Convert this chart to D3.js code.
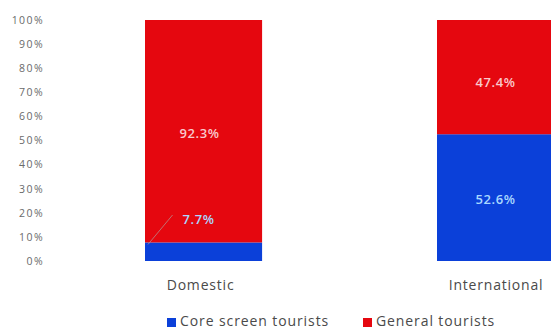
<!DOCTYPE html>
<html>
<head>
<meta charset="utf-8">
<script src="https://cdn.jsdelivr.net/npm/d3@7"></script>
<style>
  html, body { margin: 0; padding: 0; background: #fff; overflow: hidden; }
  svg { display: block; font-family: "Open Sans", "Noto Sans", sans-serif; }
</style>
</head>
<body>
<svg id="chart" width="551" height="329"></svg>
<script>
// Share of visitors by origin, stacked to 100%
const categories = ["Domestic", "International"];
const seriesNames = ["Core screen tourists", "General tourists"];
const coreShare = [7.7, 52.6];
const generalShare = [92.3, 47.4];
const yTicks = [0, 10, 20, 30, 40, 50, 60, 70, 80, 90, 100];

const colors = { "Core screen tourists": "#0b40d9", "General tourists": "#e5070f" };
const labelColors = { "Core screen tourists": "#a9d8ff", "General tourists": "#f9c9cc" };

const rows = categories.map((c, i) => ({
  category: c,
  "Core screen tourists": coreShare[i],
  "General tourists": generalShare[i]
}));

const svg = d3.select("#chart");

const x = d3.scaleBand()
  .domain(categories)
  .range([57.4, 641.7])
  .paddingInner(0.599)
  .paddingOuter(0.3);

const y = d3.scaleLinear().domain([0, 100]).range([261, 20]);

// y axis: labels only
const yAxis = d3.axisLeft(y)
  .tickValues(yTicks)
  .tickFormat(d => d + "%")
  .tickSize(0)
  .tickPadding(0);
const yg = svg.append("g").attr("transform", "translate(44,0)").call(yAxis);
yg.select(".domain").remove();
yg.selectAll("text")
  .attr("fill", "#6a6a6a")
  .style("font-size", "10.5px")
  .style("letter-spacing", "1.4px")
  .style("font-family", "'Open Sans', sans-serif");

const stack = d3.stack().keys(seriesNames);
const layers = stack(rows);

const g = svg.append("g");
layers.forEach(layer => {
  g.selectAll(null)
    .data(layer)
    .enter().append("rect")
    .attr("x", d => x(d.data.category))
    .attr("width", x.bandwidth())
    .attr("y", d => y(d[1]))
    .attr("height", d => y(d[0]) - y(d[1]))
    .attr("fill", colors[layer.key]);
});

// value labels (vertical placement per segment)
const labelPlace = {
  "Domestic|Core screen tourists": { dx: -5, y: 219 },
  "Domestic|General tourists": { dx: -4, y: 133 },
  "International|Core screen tourists": { dx: 0, y: 199 },
  "International|General tourists": { dx: 0, y: 82 }
};
layers.forEach(layer => {
  layer.forEach(d => {
    const key = d.data.category + "|" + layer.key;
    const p = labelPlace[key];
    const cx = x(d.data.category) + x.bandwidth() / 2 + p.dx;
    const cy = p.y;
    svg.append("text")
      .attr("x", cx)
      .attr("y", cy)
      .attr("dy", "0.35em")
      .attr("text-anchor", "middle")
      .attr("fill", labelColors[layer.key])
      .style("font-size", "13px")
      .style("font-weight", "600")
      .style("letter-spacing", "0.6px")
      .text(d.data[layer.key] + "%");
    if (key === "Domestic|Core screen tourists") {
      // leader line from label to the thin segment
      svg.append("line")
        .attr("x1", cx - 26).attr("y1", cy - 4)
        .attr("x2", x(d.data.category) + 3).attr("y2", y(d[1]) + 2)
        .attr("stroke", "#b88a8a")
        .attr("stroke-width", 0.8);
    }
  });
});

// category labels
svg.selectAll(".cat")
  .data(categories)
  .enter().append("text")
  .attr("x", d => x(d) + x.bandwidth() / 2 - (d === "Domestic" ? 3 : -0.5))
  .attr("y", 285)
  .attr("dy", "0.35em")
  .attr("text-anchor", "middle")
  .attr("fill", "#4a4a4a")
  .style("font-size", "14px")
  .style("letter-spacing", "0.8px")
  .text(d => d);

// legend
const legendItems = [
  { name: "Core screen tourists", x: 167 },
  { name: "General tourists", x: 363 }
];
const lg = svg.append("g");
legendItems.forEach(it => {
  lg.append("rect")
    .attr("x", it.x).attr("y", 318)
    .attr("width", 9).attr("height", 9)
    .attr("fill", colors[it.name]);
  lg.append("text")
    .attr("x", it.x + 13).attr("y", 326)
    .attr("fill", "#4a4a4a")
    .style("font-size", "14px")
    .style("letter-spacing", "0.9px")
    .text(it.name);
});
</script>
</body>
</html>
